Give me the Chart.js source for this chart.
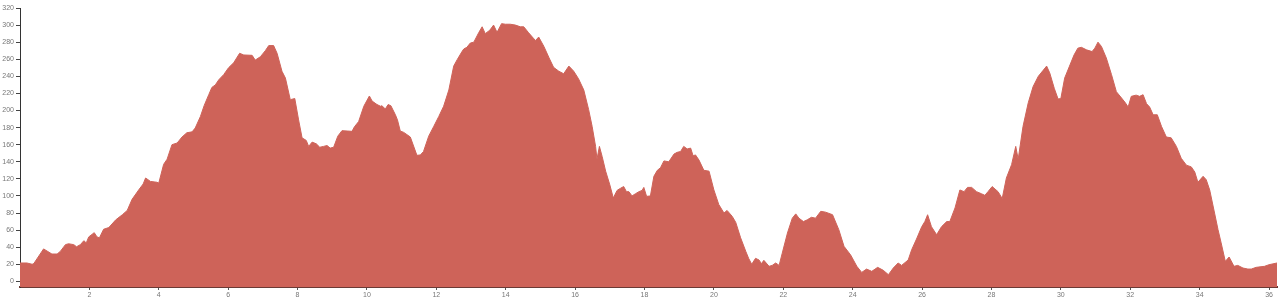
<!DOCTYPE html>
<html>
<head>
<meta charset="utf-8">
<script src="https://cdn.jsdelivr.net/npm/chart.js@4/dist/chart.umd.min.js"></script>
<style>
  html, body { margin: 0; padding: 0; background: #fff; }
  #wrap { width: 1281px; height: 307px; }
</style>
</head>
<body>
<div id="wrap"><canvas id="c" width="1281" height="307"></canvas></div>
<script>
// Distance along the route (km)
const distanceKm = [
  0, 0.2, 0.35, 0.4, 0.68, 0.92, 1.07, 1.16, 1.31, 1.4, 1.55, 1.63, 1.74, 1.84, 1.91, 1.98,
  2.14, 2.22, 2.29, 2.41, 2.56, 2.76, 2.95, 3.09, 3.23, 3.42, 3.55, 3.62, 3.76, 3.95, 4.0,
  4.14, 4.24, 4.38, 4.53, 4.67, 4.81, 4.96, 5.05, 5.2, 5.31, 5.44, 5.53, 5.63, 5.73, 5.87,
  6.01, 6.16, 6.33, 6.45, 6.69, 6.78, 6.93, 7.07, 7.17, 7.31, 7.41, 7.55, 7.65, 7.79, 7.92,
  8.03, 8.13, 8.25, 8.32, 8.42, 8.54, 8.64, 8.75, 8.85, 8.94, 9.04, 9.16, 9.28, 9.43, 9.57,
  9.64, 9.76, 9.91, 10.07, 10.15, 10.29, 10.39, 10.43, 10.53, 10.61, 10.69, 10.82, 10.88,
  10.96, 11.06, 11.25, 11.44, 11.54, 11.63, 11.78, 11.92, 12.07, 12.21, 12.36, 12.5, 12.6,
  12.74, 12.79, 12.88, 12.98, 13.08, 13.22, 13.32, 13.41, 13.54, 13.65, 13.75, 13.88, 13.99,
  14.13, 14.28, 14.42, 14.52, 14.66, 14.81, 14.86, 14.95, 15.1, 15.25, 15.38, 15.53, 15.67,
  15.82, 15.96, 16.1, 16.25, 16.39, 16.49, 16.59, 16.63, 16.7, 16.78, 16.88, 17.0, 17.1,
  17.21, 17.31, 17.4, 17.48, 17.55, 17.64, 17.74, 17.84, 17.93, 17.98, 18.06, 18.17, 18.27,
  18.37, 18.46, 18.56, 18.7, 18.85, 18.94, 19.04, 19.13, 19.23, 19.33, 19.4, 19.47, 19.57,
  19.71, 19.86, 20.0, 20.14, 20.29, 20.38, 20.53, 20.63, 20.77, 20.92, 21.0, 21.09, 21.2,
  21.3, 21.37, 21.44, 21.59, 21.68, 21.78, 21.88, 21.97, 22.12, 22.26, 22.36, 22.45, 22.58,
  22.69, 22.81, 22.93, 23.08, 23.22, 23.42, 23.6, 23.75, 23.94, 24.12, 24.26, 24.4, 24.55,
  24.72, 24.88, 25.03, 25.17, 25.31, 25.41, 25.6, 25.7, 25.84, 25.99, 26.08, 26.16, 26.27,
  26.42, 26.56, 26.71, 26.8, 26.95, 27.09, 27.21, 27.31, 27.43, 27.57, 27.71, 27.81, 27.9,
  28.02, 28.19, 28.31, 28.43, 28.58, 28.7, 28.77, 28.91, 29.06, 29.2, 29.35, 29.49, 29.59,
  29.68, 29.81, 29.92, 30.0, 30.11, 30.25, 30.38, 30.49, 30.59, 30.74, 30.9, 30.98, 31.07,
  31.17, 31.31, 31.46, 31.6, 31.75, 31.86, 31.94, 32.03, 32.17, 32.27, 32.37, 32.47, 32.56,
  32.66, 32.78, 32.9, 33.04, 33.18, 33.33, 33.47, 33.62, 33.76, 33.86, 33.95, 34.1, 34.19,
  34.29, 34.43, 34.53, 34.62, 34.74, 34.85, 34.99, 35.1, 35.25, 35.39, 35.49, 35.63, 35.87,
  36.0, 36.23
];

// Elevation (m)
const elevationM = [
  21.5, 21.5, 20, 21, 38, 32, 32, 35, 43, 44, 43, 40.5, 43, 47.6, 45, 52,
  57, 52, 51, 61, 63, 72, 78, 83, 96, 107, 114, 121, 117, 116, 115,
  137, 143, 160, 162, 169, 174, 175, 179.5, 193, 206, 218.5, 227, 230, 236, 242,
  250, 256, 267, 265, 264.6, 259, 263, 270, 276, 276, 267, 246, 238, 212.7, 214,
  189, 168, 165, 158, 163, 161, 157, 158, 159, 156, 157, 170, 176.4, 176, 175.6,
  181, 187, 205, 217, 211, 207, 205, 205.6, 201.8, 207, 205.6, 195, 189,
  176, 174.4, 169, 147.5, 148, 152, 170, 181, 193, 205, 224, 252, 259.5,
  269, 272, 274, 279, 280, 291, 298, 290, 294, 300, 291.5, 301.7, 301,
  301, 300, 298, 298, 291, 284, 282, 286, 275, 261.5, 250.5, 246, 243,
  252, 246, 237, 224, 201, 181.5, 158, 143, 158, 146, 129, 113, 97.6,
  106.5, 109, 111, 105, 105, 100, 102.6, 105, 106.5, 110, 99.5, 100, 123,
  130, 133, 141, 140, 149, 151, 152, 158, 155, 156, 147, 148, 142,
  130, 129, 107, 90, 80, 83, 76, 69, 51, 35, 27, 20, 27,
  25, 20.7, 24.6, 17.6, 18.7, 21.5, 18.7, 33, 56.6, 74, 79, 74, 70,
  72, 75, 74, 82, 81, 78, 60.5, 41, 31, 17.6, 10.5, 14.4, 11.7,
  16.4, 13, 7.8, 15.6, 21.5, 18.7, 25, 37, 49.6, 64, 70, 78, 64,
  54.6, 64, 70, 70, 86, 107, 105, 110, 110, 105, 102.6, 100.7, 105,
  111, 105, 97, 121, 136.6, 158, 143, 181.5, 209, 228, 240, 247, 252,
  244, 226, 213.5, 214, 238, 252, 265, 273, 274, 271, 269, 273, 280,
  275, 261.5, 242, 222, 214.6, 209, 204, 216.6, 218, 216.6, 218.5, 208, 204,
  195, 195, 181.5, 169, 168, 158, 144, 136, 134, 128, 116, 123, 119,
  107, 80, 60.5, 45, 23.4, 28.5, 17.6, 18.7, 15.6, 14.4, 14.4, 16.4, 17.6,
  19.5, 21.5
];

// Axis tick settings
const xTickStep = 2;
const yTickStep = 20;
const yMin = -6.6;
const yMax = 320;
const xMax = 36.23;

const points = distanceKm.map((d, i) => ({ x: d, y: elevationM[i] }));

const fillColor = '#CE6359';

new Chart(document.getElementById('c'), {
  type: 'line',
  data: {
    datasets: [{
      data: points,
      fill: 'start',
      backgroundColor: fillColor,
      borderColor: fillColor,
      borderWidth: 1,
      pointRadius: 0,
      tension: 0
    }]
  },
  options: {
    responsive: false,
    animation: false,
    events: [],
    layout: { padding: { top: 8, right: 4, left: 0, bottom: 0 } },
    plugins: { legend: { display: false }, tooltip: { enabled: false } },
    scales: {
      x: {
        type: 'linear',
        min: 0,
        max: xMax,
        afterBuildTicks: (s) => { s.ticks = s.ticks.filter(t => t.value > 0 && t.value % xTickStep === 0); },
        afterFit: (s) => { s.height = 20; },
        ticks: {
          stepSize: xTickStep,
          includeBounds: false,
          maxRotation: 0,
          autoSkip: false,
          color: '#777',
          padding: 1,
          font: { family: 'Liberation Sans, Arial, sans-serif', size: 7 }
        },
        grid: { drawOnChartArea: false, drawTicks: true, tickLength: 3, color: '#555' },
        border: { display: true, color: '#6b3a35', width: 2 }
      },
      y: {
        type: 'linear',
        min: yMin,
        max: yMax,
        afterBuildTicks: (s) => { s.ticks = s.ticks.filter(t => t.value % yTickStep === 0); },
        afterFit: (s) => { s.width = 20; },
        ticks: {
          stepSize: yTickStep,
          includeBounds: false,
          autoSkip: false,
          color: '#777',
          padding: 2,
          font: { family: 'Liberation Sans, Arial, sans-serif', size: 7 }
        },
        grid: { drawOnChartArea: false, drawTicks: true, tickLength: 4, color: '#444' },
        border: { display: true, color: '#333', width: 1 }
      }
    }
  }
});
</script>
</body>
</html>
